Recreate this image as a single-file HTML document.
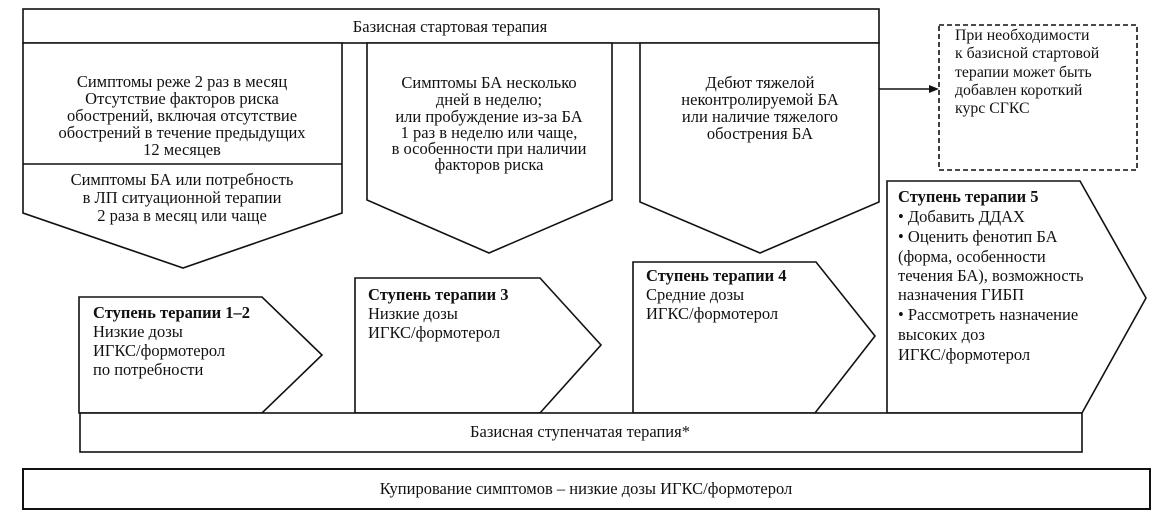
<!DOCTYPE html>
<html><head><meta charset="utf-8"><style>
html,body{margin:0;padding:0;background:#fff;}
svg{display:block;}
text{font-family:"Liberation Serif","DejaVu Serif",serif;font-size:16.5px;fill:#111;}
.c{text-anchor:middle;}
.b{font-weight:bold;}
.d{font-size:15.8px;}
</style></head><body>
<svg width="1158" height="530" viewBox="0 0 1158 530" xmlns="http://www.w3.org/2000/svg">
<g fill="#fff" stroke="#111" stroke-width="1.6">
<rect x="23" y="9" width="856" height="34"/>
<polygon points="23,43 342,43 342,213 183,268 23,213"/>
<line x1="23" y1="164" x2="342" y2="164"/>
<polygon points="367,43 612,43 612,200 489,253 367,200"/>
<polygon points="640,43 879,43 879,202 760,253 640,202"/>
<rect x="939" y="25" width="198" height="145" stroke-dasharray="5,3"/>
<polygon points="79,297 262,297 322,355 262,413 79,413"/>
<polygon points="355,278 540,278 601,345 540,413 355,413"/>
<polygon points="633,262 816,262 875,336 815,413 633,413"/>
<polygon points="887,181 1080,181 1146,298 1082,413 887,413"/>
<rect x="80" y="413" width="1002" height="39"/>
<rect x="23" y="469" width="1127" height="40" stroke-width="2"/>
</g>
<line x1="879" y1="89" x2="930" y2="89" stroke="#111" stroke-width="1.6"/>
<polygon points="939,89 929,85 929,93" fill="#111"/>
<text x="450" y="32" class="c">Базисная стартовая терапия</text>
<text x="182" y="87" class="c">Симптомы реже 2 раз в месяц</text>
<text x="182" y="104" class="c">Отсутствие факторов риска</text>
<text x="182" y="121" class="c">обострений, включая отсутствие</text>
<text x="182" y="138" class="c">обострений в течение предыдущих</text>
<text x="182" y="155" class="c">12 месяцев</text>
<text x="182" y="185" class="c">Симптомы БА или потребность</text>
<text x="182" y="203" class="c">в ЛП ситуационной терапии</text>
<text x="182" y="221" class="c">2 раза в месяц или чаще</text>
<text x="489" y="88" class="c">Симптомы БА несколько</text>
<text x="489" y="105" class="c">дней в неделю;</text>
<text x="489" y="122" class="c">или пробуждение из-за БА</text>
<text x="489" y="138" class="c">1 раз в неделю или чаще,</text>
<text x="489" y="154" class="c">в особенности при наличии</text>
<text x="489" y="170" class="c">факторов риска</text>
<text x="760" y="88" class="c">Дебют тяжелой</text>
<text x="760" y="105" class="c">неконтролируемой БА</text>
<text x="760" y="122" class="c">или наличие тяжелого</text>
<text x="760" y="139" class="c">обострения БА</text>
<text x="955" y="40" class="d">При необходимости</text>
<text x="955" y="58" class="d">к базисной стартовой</text>
<text x="955" y="77" class="d">терапии может быть</text>
<text x="955" y="95" class="d">добавлен короткий</text>
<text x="955" y="113" class="d">курс СГКС</text>
<text x="93" y="318" class="b">Ступень терапии 1–2</text>
<text x="93" y="337">Низкие дозы</text>
<text x="93" y="356">ИГКС/формотерол</text>
<text x="93" y="375">по потребности</text>
<text x="368" y="300" class="b">Ступень терапии 3</text>
<text x="368" y="319">Низкие дозы</text>
<text x="368" y="338">ИГКС/формотерол</text>
<text x="646" y="281" class="b">Ступень терапии 4</text>
<text x="646" y="300">Средние дозы</text>
<text x="646" y="319">ИГКС/формотерол</text>
<text x="898" y="202" class="b">Ступень терапии 5</text>
<text x="898" y="222">• Добавить ДДАХ</text>
<text x="898" y="242">• Оценить фенотип БА</text>
<text x="898" y="262">(форма, особенности</text>
<text x="898" y="281">течения БА), возможность</text>
<text x="898" y="300">назначения ГИБП</text>
<text x="898" y="320">• Рассмотреть назначение</text>
<text x="898" y="340">высоких доз</text>
<text x="898" y="360">ИГКС/формотерол</text>
<text x="580" y="437" class="c">Базисная ступенчатая терапия*</text>
<text x="586" y="494" class="c">Купирование симптомов – низкие дозы ИГКС/формотерол</text>
</svg>
</body></html>
